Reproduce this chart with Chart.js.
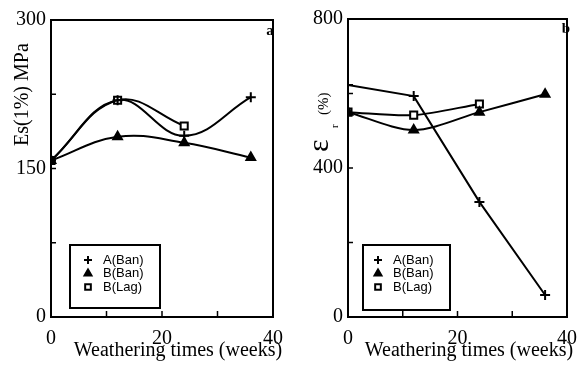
<!DOCTYPE html>
<html>
<head>
<meta charset="utf-8">
<script src="https://cdn.jsdelivr.net/npm/chart.js@4/dist/chart.umd.min.js"></script>
<style>
  body { margin: 0; background: #fff; }
  #wrap { position: relative; width: 587px; height: 365px; overflow: hidden; }
  canvas { position: absolute; top: 0; }
</style>
</head>
<body>
<div id="wrap">
  <canvas id="chartA" width="293" height="365" style="left:0"></canvas>
  <canvas id="chartB" width="294" height="365" style="left:293px"></canvas>
</div>
<script>
// weathering times (weeks)
const weeks = [0, 12, 24, 36];
const seriesNames = ['A(Ban)', 'B(Ban)', 'B(Lag)'];

// panel a : Es(1%) MPa
const esA_Ban = [158, 219, 183, 222];
const esB_Ban = [158, 182, 176, 161];
const esB_Lag = [158, 219, 193];

// panel b : elongation at break (%)
const epsA_Ban = [623, 593, 309, 59];
const epsB_Ban = [550, 502, 550, 598];
const epsB_Lag = [550, 542, 572];

const xTicks = [0, 20, 40];
const esTicks = [0, 150, 300];
const epsTicks = [0, 400, 800];

const serif = "'Liberation Serif', 'Times New Roman', serif";
const sans = "'Liberation Sans', Arial, sans-serif";

function pts(ys) {
  return ys.map((y, i) => ({ x: weeks[i], y: y }));
}

function makeSets(a, b, lag, tens) {
  return [
    { label: seriesNames[0], data: pts(a), pointStyle: 'cross', pointRadius: 5,
      pointBorderWidth: 2, tension: tens[0] },
    { label: seriesNames[1], data: pts(b), pointStyle: 'triangle', pointRadius: 5,
      pointBackgroundColor: '#000', tension: tens[1] },
    { label: seriesNames[2], data: pts(lag), pointStyle: 'rect', pointRadius: 5,
      pointBackgroundColor: '#fff', pointBorderWidth: 2, tension: tens[2] }
  ].map(d => Object.assign({ borderColor: '#000', borderWidth: 2, pointBorderColor: '#000', fill: false }, d));
}

// frame, inward ticks, titles, legend box, panel letter
const decor = {
  id: 'decor',
  afterDraw(chart, args, o) {
    const ctx = chart.ctx, a = chart.chartArea;
    ctx.save();
    ctx.strokeStyle = '#000';
    ctx.fillStyle = '#000';
    ctx.lineWidth = 2;
    ctx.strokeRect(a.left, a.top, a.right - a.left, a.bottom - a.top);

    ctx.lineWidth = 1.5;
    chart.scales.y.ticks.forEach(t => {
      const py = chart.scales.y.getPixelForValue(t.value);
      ctx.beginPath(); ctx.moveTo(a.left, py); ctx.lineTo(a.left + 5, py); ctx.stroke();
    });
    chart.scales.x.ticks.forEach(t => {
      const px = chart.scales.x.getPixelForValue(t.value);
      ctx.beginPath(); ctx.moveTo(px, a.bottom); ctx.lineTo(px, a.bottom - 6); ctx.stroke();
    });

    // x title
    ctx.font = '20px ' + serif;
    ctx.textAlign = 'center';
    ctx.textBaseline = 'alphabetic';
    ctx.fillText('Weathering times (weeks)', o.xTitleX, 356);

    // y title
    ctx.save();
    ctx.translate(o.yTitle.x, o.yTitle.y);
    ctx.rotate(-Math.PI / 2);
    ctx.textAlign = 'left';
    o.yTitle.parts.forEach(p => {
      ctx.font = p.size + 'px ' + serif;
      ctx.fillText(p.text, p.dx, p.dy);
    });
    ctx.restore();

    // panel letter
    ctx.font = 'bold 15px ' + serif;
    ctx.textAlign = 'center';
    ctx.fillText(o.letter.text, o.letter.x, o.letter.y);

    // legend
    const L = o.legend;
    ctx.lineWidth = 2;
    ctx.strokeRect(L.x, L.y, L.w, L.h);
    ctx.font = '13px ' + sans;
    ctx.textAlign = 'left';
    ctx.textBaseline = 'middle';
    chart.data.datasets.forEach((ds, i) => {
      const yy = L.rowY + i * 13.5;
      ctx.fillStyle = ds.pointStyle === 'rect' ? '#fff' : '#000';
      ctx.strokeStyle = '#000';
      ctx.lineWidth = 2;
      Chart.helpers.drawPoint(ctx, { pointStyle: ds.pointStyle, radius: 4, borderWidth: 2, rotation: 0 }, L.markX, yy);
      ctx.fillStyle = '#000';
      ctx.fillText(ds.label, L.textX, yy);
    });
    ctx.restore();
  }
};

function makeChart(id, sets, yMax, yStep, yLabels, area, dec) {
  return new Chart(document.getElementById(id), {
    type: 'line',
    data: { datasets: sets },
    options: {
      responsive: false,
      animation: false,
      devicePixelRatio: 1,
      layout: { autoPadding: false, padding: { top: area.top, right: area.right, left: 0, bottom: 0 } },
      scales: {
        x: {
          type: 'linear', min: 0, max: 40,
          grid: { display: false, drawTicks: false }, border: { display: false },
          ticks: { stepSize: 10, padding: 10, color: '#000', font: { family: serif, size: 20 },
                   maxRotation: 0, autoSkip: false,
                   callback: v => xTicks.includes(v) ? String(v) : '' },
          afterFit: s => { s.height = 48; }
        },
        y: {
          min: 0, max: yMax,
          grid: { display: false, drawTicks: false }, border: { display: false },
          ticks: { stepSize: yStep, padding: 5, color: '#000', font: { family: serif, size: 20 },
                   autoSkip: false,
                   callback: v => yLabels.includes(v) ? String(v) : '' },
          afterFit: s => { s.width = area.left; }
        }
      },
      plugins: { legend: { display: false }, tooltip: { enabled: false }, decor: dec }
    },
    plugins: [decor]
  });
}

makeChart('chartA', makeSets(esA_Ban, esB_Ban, esB_Lag, [0.4, 0.4, 0.4]), 300, 75, esTicks,
  { left: 51, top: 20, right: 11 },
  {
    xTitleX: 178,
    yTitle: { x: 28, y: 146, parts: [{ text: 'Es(1%) MPa', size: 20, dx: 0, dy: 0 }] },
    letter: { text: 'a', x: 270, y: 35 },
    legend: { x: 70, y: 245, w: 90, h: 63, rowY: 260, markX: 88, textX: 103 }
  });

makeChart('chartB', makeSets(epsA_Ban, epsB_Ban, epsB_Lag, [0, 0.3, 0.3]), 800, 200, epsTicks,
  { left: 55, top: 19, right: 9 },
  {
    xTitleX: 176,
    yTitle: { x: 35, y: 152, parts: [
      { text: 'ε', size: 30, dx: 0, dy: 0 },
      { text: 'r', size: 11, dx: 24, dy: 10 },
      { text: '(%)', size: 15, dx: 37, dy: 0 }
    ] },
    letter: { text: 'b', x: 273, y: 33 },
    legend: { x: 70, y: 245, w: 87, h: 65, rowY: 260, markX: 85, textX: 100 }
  });
</script>
</body>
</html>
